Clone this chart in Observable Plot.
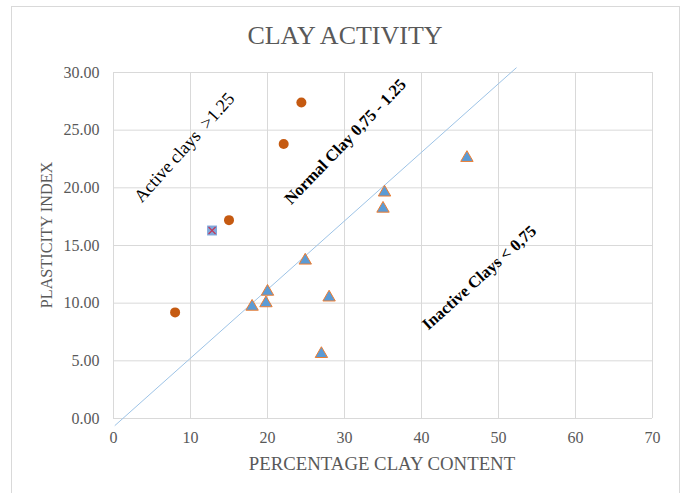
<!DOCTYPE html>
<html><head><meta charset="utf-8">
<script src="https://cdn.jsdelivr.net/npm/d3@7"></script>
<script src="https://cdn.jsdelivr.net/npm/@observablehq/plot@0.6"></script>
<style>
body{margin:0;background:#fff;}
#wrap{position:relative;width:682px;height:493px;overflow:hidden;font-family:"Liberation Serif","Times New Roman",serif;}
#frame{position:absolute;left:11px;top:6px;width:669px;height:530px;border:1px solid #d9d9d9;box-sizing:border-box;}
#chart{position:absolute;left:0;top:0;}
.t{position:absolute;white-space:nowrap;color:#595959;transform:translate(-50%,-50%);}
</style></head><body>
<div id="wrap">
<div id="frame"></div>
<div id="chart"></div>
<div class="t" style="left:345px;top:36px;font-size:26px;line-height:26px;">CLAY ACTIVITY</div>
<div class="t" style="left:382px;top:463px;font-size:18.8px;line-height:19px;">PERCENTAGE CLAY CONTENT</div>
<div class="t" style="left:47px;top:235px;font-size:16.2px;line-height:16px;transform:translate(-50%,-50%) rotate(-90deg);">PLASTICITY INDEX</div>
</div>
<script>
// Tick values
const xTicks = [0, 10, 20, 30, 40, 50, 60, 70];
const yTicks = [0, 5, 10, 15, 20, 25, 30];

// Active clays (orange circles)
const activeX = [8.0, 15.0, 22.1, 24.4];
const activeY = [9.2, 17.2, 23.8, 27.4];

// Special sample (blue square with cross)
const markedX = [12.8];
const markedY = [16.3];

// Inactive / normal clays (blue triangles)
const inactiveX = [18.0, 19.8, 20.0, 24.9, 28.0, 27.0, 35.0, 35.2, 45.9];
const inactiveY = [9.7, 10.0, 11.0, 13.7, 10.5, 5.6, 18.2, 19.6, 22.6];

// Reference line (A-line)
const lineX = [0.2, 52.3];
const lineY = [-0.6, 30.4];

// Zone labels
const zoneLabels = ["Active clays\u00a0 >1.25", "Normal Clay 0,75 - 1.25", "Inactive Clays < 0,75"];
const zoneX = [9.2, 30.1, 47.5];
const zoneY = [23.5, 24.0, 12.2];

const rows = (xs, ys) => xs.map((x, i) => ({x, y: ys[i]}));

const chart = Plot.plot({
  width: 682, height: 493,
  marginLeft: 113, marginRight: 30, marginTop: 72, marginBottom: 75,
  x: {domain: [0, 70], ticks: xTicks, tickSize: 0, tickPadding: 13, label: null},
  y: {domain: [0, 30], ticks: yTicks, tickSize: 0, tickPadding: 14, tickFormat: d3.format(".2f"), label: null},
  style: {background: "transparent", fontFamily: "Liberation Serif, Times New Roman, serif", fontSize: "16px", color: "#595959", overflow: "visible"},
  marks: [
    Plot.ruleX(xTicks, {stroke: "#d9d9d9", strokeWidth: 1}),
    Plot.ruleY(yTicks, {stroke: "#d9d9d9", strokeWidth: 1}),
    Plot.line(rows(lineX, lineY), {x: "x", y: "y", stroke: "#9DC3E6", strokeWidth: 1}),
    Plot.dot(rows(activeX, activeY), {x: "x", y: "y", r: 5, fill: "#C55A11", stroke: "none"}),
    Plot.dot(rows(markedX, markedY), {x: "x", y: "y", symbol: "square", r: 5.6, fill: "#7FA8DC", stroke: "none"}),
    Plot.dot(rows(markedX, markedY), {x: "x", y: "y", symbol: "times", r: 3.3, stroke: "#C0395A", strokeWidth: 1.2, fill: "none"}),
    Plot.dot(rows(inactiveX, inactiveY), {x: "x", y: "y", symbol: "triangle", r: 4.6, fill: "#5B9BD5", stroke: "#ED7D31", strokeWidth: 1}),
    Plot.text([zoneLabels[0]], {x: [zoneX[0]], y: [zoneY[0]], text: d => d, rotate: -48, fontSize: 18, fill: "#000", fontFamily: "Liberation Serif"}),
    Plot.text([zoneLabels[1]], {x: [zoneX[1]], y: [zoneY[1]], text: d => d, rotate: -46, fontSize: 16.5, fontWeight: "bold", fill: "#000", fontFamily: "Liberation Serif"}),
    Plot.text([zoneLabels[2]], {x: [zoneX[2]], y: [zoneY[2]], text: d => d, rotate: -42, fontSize: 16.5, fontWeight: "bold", fill: "#000", fontFamily: "Liberation Serif"})
  ]
});
document.getElementById("chart").appendChild(chart);
</script>
</body></html>
